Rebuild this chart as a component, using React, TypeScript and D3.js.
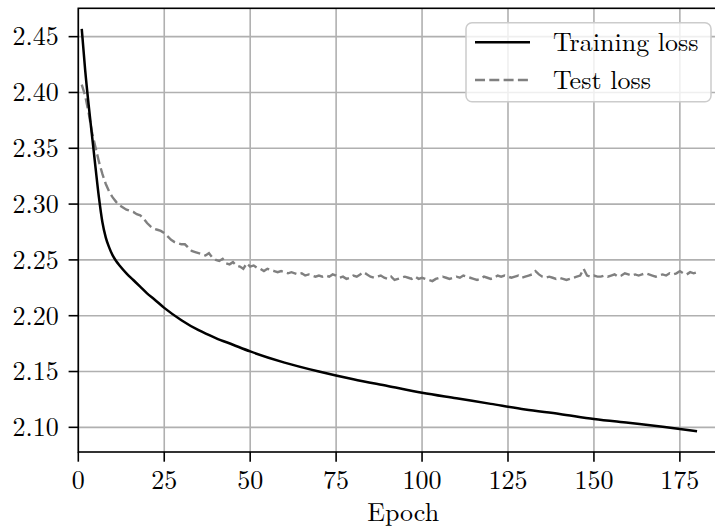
import React from "react";
import * as d3 from "d3";

const trainEpochs = [1, 2, 3, 4, 5, 6, 7, 8, 9, 10, 11, 12, 14, 16, 18, 20, 22, 25, 30, 35, 40, 45, 50, 60, 70, 80, 90, 100, 110, 120, 130, 140, 150, 160, 170, 180];
const trainLoss = [2.457, 2.42, 2.389, 2.361, 2.333, 2.306, 2.284, 2.27, 2.261, 2.254, 2.249, 2.245, 2.238, 2.232, 2.226, 2.22, 2.215, 2.207, 2.196, 2.187, 2.18, 2.174, 2.168, 2.158, 2.15, 2.143, 2.137, 2.131, 2.126, 2.121, 2.116, 2.112, 2.1075, 2.104, 2.1005, 2.0965];

// test loss, epochs 1..180
const testLoss = [
  2.407, 2.397, 2.382, 2.364, 2.351, 2.338, 2.327, 2.318, 2.311, 2.306,
  2.302, 2.299, 2.297, 2.295, 2.294, 2.293, 2.291, 2.29, 2.287, 2.283,
  2.28, 2.278, 2.277, 2.276, 2.274, 2.271, 2.268, 2.266, 2.265, 2.264,
  2.264, 2.261, 2.258, 2.257, 2.256, 2.255, 2.254, 2.256, 2.252, 2.25,
  2.249, 2.251, 2.247, 2.246, 2.248, 2.245, 2.244, 2.242, 2.247, 2.244,
  2.245, 2.243, 2.242, 2.24, 2.242, 2.241, 2.24, 2.239, 2.24, 2.239,
  2.238, 2.239, 2.238, 2.237, 2.238, 2.236, 2.237, 2.236, 2.235, 2.236,
  2.235, 2.236, 2.235, 2.237, 2.236, 2.234, 2.235, 2.233, 2.234, 2.236,
  2.235, 2.237, 2.239, 2.237, 2.235, 2.234, 2.235, 2.236, 2.234, 2.233,
  2.235, 2.232, 2.233, 2.234, 2.235, 2.234, 2.233, 2.235, 2.233, 2.234,
  2.233, 2.232, 2.231, 2.233, 2.234, 2.235, 2.234, 2.233, 2.234, 2.235,
  2.234, 2.236, 2.235, 2.234, 2.233, 2.232, 2.233, 2.235, 2.234, 2.233,
  2.234, 2.236, 2.235, 2.236, 2.235, 2.234, 2.235, 2.236, 2.234, 2.235,
  2.236, 2.237, 2.24, 2.237, 2.235, 2.234, 2.235, 2.234, 2.233, 2.234,
  2.233, 2.232, 2.233, 2.234, 2.235, 2.236, 2.242, 2.236, 2.235, 2.236,
  2.235, 2.235, 2.236, 2.235, 2.236, 2.237, 2.235, 2.236, 2.238, 2.237,
  2.236, 2.237, 2.236, 2.237, 2.238, 2.237, 2.236, 2.235, 2.236, 2.237,
  2.236, 2.238, 2.237, 2.238, 2.24, 2.238, 2.237, 2.239, 2.238, 2.239,
];

const xTicks = [0, 25, 50, 75, 100, 125, 150, 175];
const yTicks = [2.1, 2.15, 2.2, 2.25, 2.3, 2.35, 2.4, 2.45];
const seriesNames = ["Training loss", "Test loss"];

export default function App() {
  const W = 715, H = 528;
  const left = 78.3, top = 8.3, bottom = 452, right = 728;
  const x = d3.scaleLinear().domain([0, 189]).range([left, right]);
  const y = d3.scaleLinear().domain([2.0779, 2.4754]).range([bottom, top]);
  const font = "'Latin Modern Roman', 'Liberation Serif', monospace";
  const fs = 26;
  const ts: React.CSSProperties = { fontFamily: font, fontSize: fs };

  const trainLine = d3
    .line<number>()
    .x((_, i) => x(trainEpochs[i]))
    .y((d) => y(d))
    .curve(d3.curveMonotoneX)(trainLoss);
  const testLine = d3
    .line<number>()
    .x((_, i) => x(i + 1))
    .y((d) => y(d))(testLoss);

  const lg = { x: 466, y: 22.7, w: 245, h: 79 };

  return (
    <svg width={W} height={H} style={{ position: "absolute", left: 0, top: 0 }}>
      <rect width={W} height={H} fill="#fff" />
      {xTicks.map((t) => (
        <line key={"gx" + t} x1={x(t)} x2={x(t)} y1={top} y2={bottom} stroke="#b0b0b0" strokeWidth={1.6} />
      ))}
      {yTicks.map((t) => (
        <line key={"gy" + t} x1={left} x2={right} y1={y(t)} y2={y(t)} stroke="#b0b0b0" strokeWidth={1.6} />
      ))}
      <path d={testLine || ""} fill="none" stroke="#808080" strokeWidth={2.4} strokeDasharray="10,4.3" />
      <path d={trainLine || ""} fill="none" stroke="#000" strokeWidth={2.5} />
      <rect x={left} y={top} width={right - left} height={bottom - top} fill="none" stroke="#000" strokeWidth={1.6} />
      {xTicks.map((t) => (
        <g key={"tx" + t}>
          <line x1={x(t)} x2={x(t)} y1={bottom} y2={bottom + 9.7} stroke="#000" strokeWidth={1.6} />
          <text x={x(t)} y={bottom + 37} textAnchor="middle" style={ts}>
            {t}
          </text>
        </g>
      ))}
      {yTicks.map((t) => (
        <g key={"ty" + t}>
          <line x1={left - 9.7} x2={left} y1={y(t)} y2={y(t)} stroke="#000" strokeWidth={1.6} />
          <text x={left - 19.5} y={y(t)} dy="0.34em" textAnchor="end" style={ts}>
            {t.toFixed(2)}
          </text>
        </g>
      ))}
      <text x={x(94.5)} y={520.5} textAnchor="middle" style={ts}>
        Epoch
      </text>
      <g>
        <rect x={lg.x} y={lg.y} width={lg.w} height={lg.h} rx={6} fill="#fff" fillOpacity={0.8} stroke="#cccccc" strokeWidth={1.5} />
        <line x1={475} x2={530} y1={42.3} y2={42.3} stroke="#000" strokeWidth={2.5} />
        <text x={553} y={42.3} dy="0.34em" style={ts}>
          {seriesNames[0]}
        </text>
        <line x1={475} x2={530} y1={80} y2={80} stroke="#808080" strokeWidth={2.4} strokeDasharray="10,4.3" />
        <text x={553} y={80} dy="0.34em" style={ts}>
          {seriesNames[1]}
        </text>
      </g>
    </svg>
  );
}
